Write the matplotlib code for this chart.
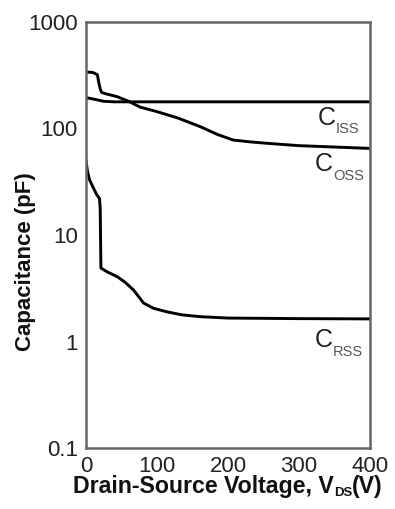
import matplotlib
matplotlib.use("Agg")
import matplotlib.pyplot as plt
import numpy as np

plt.rcParams['font.family'] = ['Liberation Sans', 'DejaVu Sans']

# Data
ciss_v = [0, 5, 12, 20, 25, 40, 100, 200, 300, 400]
ciss_c = [195, 192, 188, 183, 180, 178, 178, 178, 178, 178]

coss_v = [0, 10, 16, 18, 20, 22, 30, 44, 60, 76, 100, 130, 161, 185, 207, 230, 255, 300, 350, 400]
coss_c = [340, 335, 320, 270, 235, 218, 210, 199, 180, 159, 144, 125, 104, 88, 78, 75, 72.6, 69, 67, 65]

crss_v = [0, 2, 5, 10, 15, 19, 20, 21, 30, 44, 55, 67, 81, 95, 114, 135, 161, 200, 300, 400]
crss_c = [50, 40, 33, 28, 24, 22, 18, 4.9, 4.5, 4.06, 3.6, 3.04, 2.3, 2.05, 1.9, 1.78, 1.71, 1.66, 1.64, 1.63]

xticks = [0, 100, 200, 300, 400]
xticklabels = ["0", "100", "200", "300", "400"]
yticks = [0.1, 1, 10, 100, 1000]
yticklabels = ["0.1", "1", "10", "100", "1000"]

W, H = 395, 509
fig = plt.figure(figsize=(W / 100, H / 100), dpi=100)
left, right, top, bottom = 86, 370, 22, 448
ax = fig.add_axes([left / W, 1 - bottom / H, (right - left) / W, (bottom - top) / H])

for v, c in [(ciss_v, ciss_c), (coss_v, coss_c), (crss_v, crss_c)]:
    ax.plot(v, c, color='black', lw=2.1, solid_joinstyle='round')

ax.set_yscale('log')
ax.set_xlim(0, 400)
ax.set_ylim(0.1, 1000)
ax.set_xticks(xticks)
ax.set_xticklabels(xticklabels)
ax.set_yticks(yticks)
ax.set_yticklabels(yticklabels)
ax.minorticks_off()
ax.tick_params(axis='both', length=0, labelsize=16, colors='#222222')
ax.tick_params(axis='x', pad=6)
ax.tick_params(axis='y', pad=6)
for s in ax.spines.values():
    s.set_color('#666666')
    s.set_linewidth(1.8)

# Axis labels
renderer = fig.canvas.get_renderer()
x0 = 73
ymain = 1 - 487 / H
pieces = [("Drain-Source Voltage, V", 16.7, 0), ("DS", 9.5, -6), ("(V)", 16.7, 0)]
xcur = x0
for txt, fs, dy in pieces:
    t = fig.text(xcur / W, ymain + dy / H, txt, fontsize=fs, fontweight='bold',
                 ha='left', va='center', color='#111111')
    bb = t.get_window_extent(renderer=renderer)
    xcur += bb.width
fig.text(26 / W, 1 - 262 / H, "Capacitance (pF)", fontsize=16, fontweight='bold',
         rotation=90, ha='center', va='center', color='#111111')

# Curve labels
def clabel(xc, yc, xs, ys, sub):
    ax.text(xc, yc, "C", fontsize=18, ha='left', va='center', color='#222222')
    ax.text(xs, ys, sub, fontsize=10.5, ha='left', va='center', color='#555555')

clabel(326, 126, 352, 98, "ISS")
clabel(322, 46, 348, 36, "OSS")
clabel(322, 1.03, 348, 0.79, "RSS")

fig.savefig("out.png", dpi=100)
